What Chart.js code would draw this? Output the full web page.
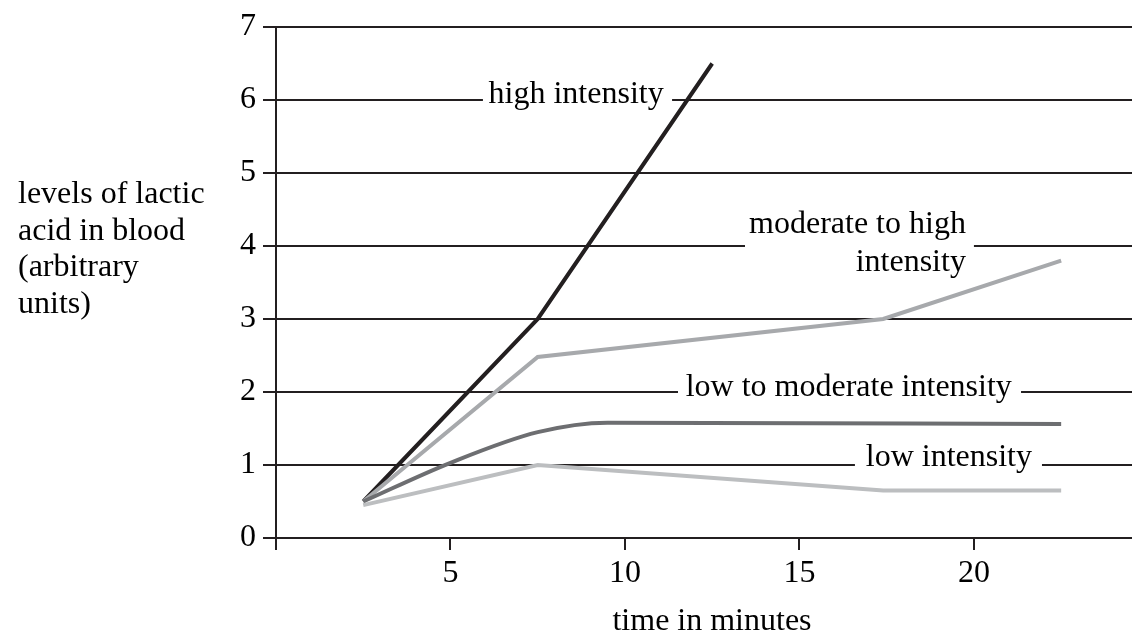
<!DOCTYPE html>
<html>
<head>
<meta charset="utf-8">
<script src="https://cdn.jsdelivr.net/npm/chart.js@4/dist/chart.umd.min.js"></script>
<style>
  html, body { margin: 0; padding: 0; background: #fff; }
  #wrap { width: 1132px; height: 639px; position: relative; }
</style>
</head>
<body>
<div id="wrap"><canvas id="lactic"></canvas></div>
<script>
// values
const xTicks = [0, 5, 10, 15, 20];
const yTicks = [0, 1, 2, 3, 4, 5, 6, 7];

const timeHigh = [2.5, 7.5, 12.5];
const lacticHigh = [0.5, 3.0, 6.5];

const timeModHigh = [2.5, 7.5, 17.4, 22.5];
const lacticModHigh = [0.5, 2.48, 3.0, 3.8];

const timeLowMod = [2.5, 5, 7.5, 9.5, 22.5];
const lacticLowMod = [0.5, 1.03, 1.45, 1.58, 1.56];

const timeLow = [2.5, 7.5, 17.4, 22.5];
const lacticLow = [0.45, 1.0, 0.65, 0.65];

const ink = "#231f20";
const serif = "'Liberation Serif', 'Times New Roman', serif";

const pts = (xs, ys) => xs.map((x, i) => ({ x: x, y: ys[i] }));

// labels that sit on the gridlines, in data units
const lineLabels = [
  { lines: ["high intensity"], y: 6, gap: [5.93, 11.35], x: 8.6, align: "center", dy: [3] },
  { lines: ["moderate to high", "intensity"], y: 4, gap: [13.44, 20.0], x: 19.77, align: "right", dy: [-13, 25] },
  { lines: ["low to moderate intensity"], y: 2, gap: [11.52, 21.35], x: 11.74, align: "left", dy: [4] },
  { lines: ["low intensity"], y: 1, gap: [16.59, 21.95], x: 16.9, align: "left", dy: [1] }
];

const labelPlugin = {
  id: "lineLabels",
  beforeDatasetsDraw(chart) {
    const ctx = chart.ctx;
    const xs = chart.scales.x, ys = chart.scales.y;
    ctx.save();
    ctx.font = "32px " + serif;
    ctx.textBaseline = "alphabetic";
    lineLabels.forEach(l => {
      const py = ys.getPixelForValue(l.y);
      const x0 = xs.getPixelForValue(l.gap[0]);
      const x1 = xs.getPixelForValue(l.gap[1]);
      ctx.fillStyle = "#fff";
      ctx.fillRect(x0, py - 4, x1 - x0, 8);
      ctx.fillStyle = "#000";
      ctx.textAlign = l.align;
      l.lines.forEach((t, i) => {
        ctx.fillText(t, xs.getPixelForValue(l.x), py + l.dy[i]);
      });
    });
    ctx.restore();
  },
  afterDraw(chart) {
    const ctx = chart.ctx;
    ctx.save();
    ctx.font = "32px " + serif;
    ctx.fillStyle = "#000";
    ctx.textBaseline = "alphabetic";
    ctx.textAlign = "left";
    ["levels of lactic", "acid in blood", "(arbitrary", "units)"].forEach((t, i) => {
      ctx.fillText(t, 18, 203 + i * 36.7);
    });
    ctx.textAlign = "center";
    ctx.fillText("time in minutes", 712, 630);
    ctx.restore();
  }
};

const lineStyle = (label, data, color) => ({
  label: label,
  data: data,
  borderColor: color,
  borderWidth: 4,
  pointRadius: 0,
  fill: false
});

new Chart(document.getElementById("lactic"), {
  type: "line",
  data: {
    datasets: [
      lineStyle("low intensity", pts(timeLow, lacticLow), "#bcbec0"),
      Object.assign(lineStyle("low to moderate intensity", pts(timeLowMod, lacticLowMod), "#6d6e71"),
        { cubicInterpolationMode: "monotone" }),
      lineStyle("moderate to high intensity", pts(timeModHigh, lacticModHigh), "#a7a9ac"),
      lineStyle("high intensity", pts(timeHigh, lacticHigh), ink)
    ]
  },
  options: {
    responsive: true,
    maintainAspectRatio: false,
    animation: false,
    layout: { padding: { top: 27, right: 0, left: 0, bottom: 0 } },
    plugins: {
      legend: { display: false },
      tooltip: { enabled: false }
    },
    scales: {
      x: {
        type: "linear",
        min: 0,
        max: 24.53,
        afterBuildTicks: s => { s.ticks = xTicks.map(v => ({ value: v })); },
        afterFit: s => { s.height = 101; },
        grid: { drawOnChartArea: false, drawTicks: true, tickLength: 12, color: ink, lineWidth: 2 },
        border: { display: true, color: ink, width: 2 },
        ticks: {
          padding: 4,
          color: "#000",
          font: { family: serif, size: 32 },
          maxRotation: 0,
          callback: v => (v === 0 ? "" : v)
        }
      },
      y: {
        min: 0,
        max: 7,
        afterBuildTicks: s => { s.ticks = yTicks.map(v => ({ value: v })); },
        afterFit: s => { s.width = 276; },
        grid: { color: ink, lineWidth: 2, tickLength: 13 },
        border: { display: true, color: ink, width: 2 },
        ticks: {
          padding: 7,
          color: "#000",
          font: { family: serif, size: 32 }
        }
      }
    }
  },
  plugins: [labelPlugin]
});
</script>
</body>
</html>
